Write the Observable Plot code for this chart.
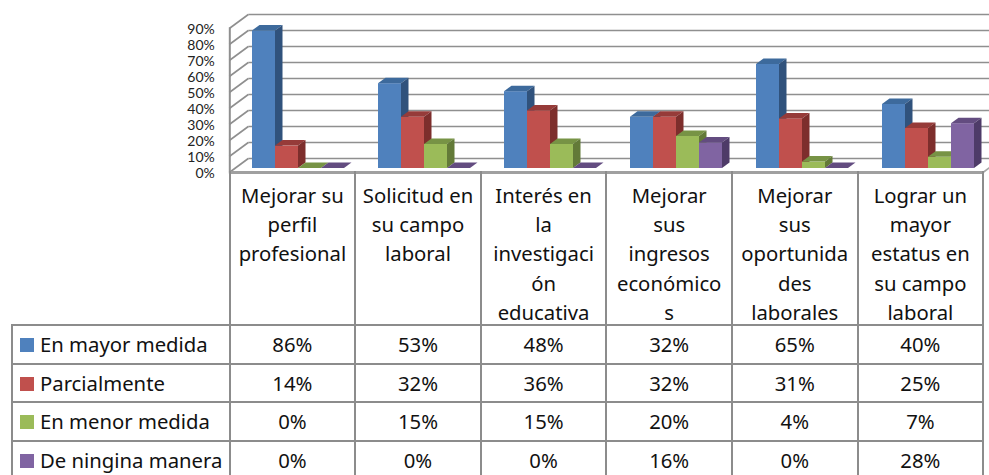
<!DOCTYPE html>
<html>
<head>
<meta charset="utf-8">
<script src="https://cdn.jsdelivr.net/npm/d3@7"></script>
<script src="https://cdn.jsdelivr.net/npm/@observablehq/plot@0.6"></script>
<style>
html,body{margin:0;padding:0;background:#fff;width:989px;height:475px;overflow:hidden;position:relative}
#chart{position:absolute;left:0;top:0}
#tbl{position:absolute;left:11px;top:171px;border-collapse:collapse;table-layout:fixed;width:971.2px;font-family:"Noto Sans",sans-serif;color:#111;background:transparent}
#tbl td{border:2px solid #8c8c8c;padding:0;text-align:center;font-size:20.3px;box-sizing:border-box;overflow:visible}
#tbl tr.head td{height:154px;line-height:29.2px;vertical-align:top;padding-top:10px;white-space:pre-line;border-top:none}
#tbl tr.head td div{margin-bottom:-5px}
#tbl tr.head td:first-child{border-left:none;border-top:none;border-bottom:2px solid #8c8c8c}
#tbl tr.row td{height:38.6px;line-height:30px}
#tbl td.key{text-align:left;padding-left:7px;white-space:nowrap}
#tbl .sw{display:inline-block;width:14px;height:14px;margin-right:6px;vertical-align:0}
</style>
</head>
<body>
<div id="chart"></div>
<table id="tbl"></table>
<script>
const categories = ["Mejorar su perfil profesional","Solicitud en su campo laboral","Interés en la investigación educativa","Mejorar sus ingresos económicos","Mejorar sus oportunidades laborales","Lograr un mayor estatus en su campo laboral"];
const categoryLines = ["Mejorar su\nperfil\nprofesional","Solicitud en\nsu campo\nlaboral","Interés en\nla\ninvestigaci\nón\neducativa","Mejorar\nsus\ningresos\neconómico\ns","Mejorar\nsus\noportunida\ndes\nlaborales","Lograr un\nmayor\nestatus en\nsu campo\nlaboral"];
const seriesNames = ["En mayor medida","Parcialmente","En menor medida","De ningina manera"];
const enMayorMedida = [86,53,48,32,65,40];
const parcialmente = [14,32,36,32,31,25];
const enMenorMedida = [0,15,15,20,4,7];
const deNinginaManera = [0,0,0,16,0,28];
const seriesValues = [enMayorMedida,parcialmente,enMenorMedida,deNinginaManera];
const yTicks = [0,10,20,30,40,50,60,70,80,90];
const faces = [
  {front:"#4F81BD",top:"#3D6A9C",side:"#30527C"},
  {front:"#C0504D",top:"#963B39",side:"#7D2E2C"},
  {front:"#9BBB59",top:"#779345",side:"#637A38"},
  {front:"#8064A2",top:"#634C80",side:"#4E3B68"}
];

const barW = 23, barStart = 23, depthX = 7.5, depthY = 5.5;
const wallX = 19, wallY = 14, lift = 4;
const gridColor = "#8f8f8f";

function box(s){
  const insetLeft = barStart + s*barW;
  return (index, scales, values, dims, ctx, next) => {
    const g = next(index, scales, values, dims, ctx);
    const sel = d3.select(g);
    for (const i of index) {
      const x0 = values.x[i] + insetLeft, x1 = x0 + barW;
      const top = values.y2[i], bot = values.y1[i];
      sel.append("polygon")
        .attr("fill", faces[s].top)
        .attr("points", [[x0,top],[x0+depthX,top-depthY],[x1+depthX,top-depthY],[x1,top]].join(" "));
      sel.append("polygon")
        .attr("fill", faces[s].side)
        .attr("points", [[x1,top],[x1+depthX,top-depthY],[x1+depthX,bot-depthY],[x1,bot]].join(" "));
    }
    return g;
  };
}

function diagonal(end){
  return (index, scales, values, dims, ctx, next) => {
    const g = next(index, scales, values, dims, ctx);
    const xAt = end === "left" ? dims.marginLeft : dims.width - dims.marginRight;
    d3.select(g).selectAll("line").each(function(){
      const l = d3.select(this), y = +l.attr("y1");
      l.attr("x1", xAt).attr("x2", xAt + wallX).attr("y2", y - wallY);
    });
    return g;
  };
}

const barMarks = seriesValues.map((vals, s) =>
  Plot.barY(categories.map((c,i)=>({c, v: vals[i]})), {
    x:"c", y:"v", fill: faces[s].front, dy:-lift,
    insetLeft: barStart + s*barW,
    insetRight: 126 - barStart - (s+1)*barW,
    render: box(s)
  })
);

const chart = Plot.plot({
  width: 989, height: 182,
  marginLeft: 229.3, marginRight: 6, marginTop: 28, marginBottom: 10,
  style:{background:"transparent"},
  x:{type:"band",domain:categories,range:[229.3,985.3],padding:0,axis:null},
  y:{domain:[0,90],range:[172,28]},
  marks:[
    Plot.ruleY(yTicks,{stroke:gridColor,strokeWidth:1.6,dx:wallX,dy:-wallY}),
    Plot.ruleY(yTicks,{stroke:gridColor,strokeWidth:1.6,render:diagonal("left")}),
    Plot.ruleY([0],{stroke:"#a6a6a6",strokeWidth:1.6,render:diagonal("right")}),
    Plot.frame({anchor:"left",stroke:gridColor,strokeWidth:2}),
    Plot.ruleY([0],{stroke:"#a0a0a0",strokeWidth:3}),
    ...barMarks,
    Plot.axisY(yTicks,{anchor:"left",tickSize:0,tickPadding:15,label:null,tickFormat:d=>d+"%",fontSize:14,dy:1,fill:"#222",fontFamily:"Lato, sans-serif"})
  ]
});
document.getElementById("chart").append(chart);

const tbl = d3.select("#tbl");
const cg = tbl.append("colgroup");
cg.append("col").style("width","217.6px");
categories.forEach(()=>cg.append("col").style("width","125.6px"));
const head = tbl.append("tr").attr("class","head");
head.append("td");
categoryLines.forEach(c=>head.append("td").append("div").text(c));
seriesNames.forEach((n,s)=>{
  const r = tbl.append("tr").attr("class","row");
  const k = r.append("td").attr("class","key");
  k.append("span").attr("class","sw").style("background",faces[s].front);
  k.append("span").text(n);
  seriesValues[s].forEach(v=>r.append("td").text(v+"%"));
});
</script>
</body>
</html>
